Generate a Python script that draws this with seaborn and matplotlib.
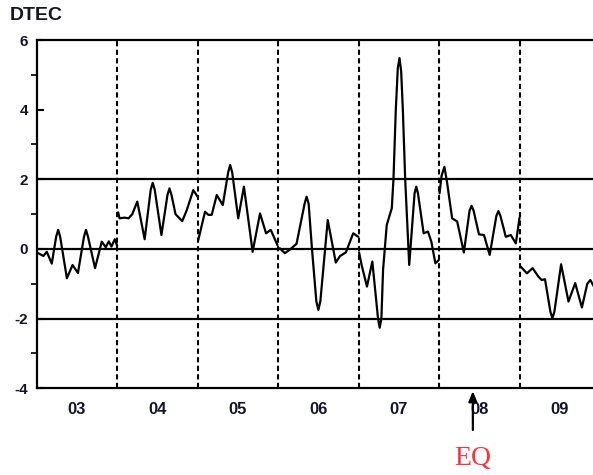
import pandas as pd
import matplotlib
matplotlib.use("Agg")
import matplotlib.pyplot as plt
import seaborn as sns

# Day-of-month labels and DTEC values per day (hour of day, TECU)
day_labels = ["03", "04", "05", "06", "07", "08", "09"]
day_numbers = [3, 4, 5, 6, 7, 8, 9]

hours_03 = [0, 1, 2, 3, 4.5, 5.8, 6.4, 7.0, 9.0, 10.7, 12.3, 14.1, 14.7, 15.3, 17.4, 19.4, 20.6, 21.5, 22.3, 23.3, 24]
dtec_03 = [-0.1, -0.15, -0.2, -0.08, -0.42, 0.35, 0.55, 0.35, -0.84, -0.46, -0.69, 0.35, 0.55, 0.35, -0.55, 0.21, 0.05, 0.22, 0.07, 0.28, 0.09]

hours_04 = [0.3, 0.7, 2.2, 3.4, 4.5, 6.0, 8.2, 10.0, 10.6, 11.2, 13.2, 15.0, 15.6, 16.2, 17.4, 19.4, 20.7, 22.7, 24]
dtec_04 = [1.05, 0.88, 0.9, 0.88, 1.0, 1.36, 0.28, 1.7, 1.9, 1.7, 0.4, 1.55, 1.74, 1.55, 1.0, 0.8, 1.1, 1.69, 1.5]

hours_05 = [0.2, 2.2, 3.2, 4.2, 5.7, 7.5, 9.1, 9.7, 10.3, 12.1, 13.8, 16.4, 18.6, 20.4, 21.8, 23.8]
dtec_05 = [0.26, 1.07, 0.98, 0.98, 1.55, 1.26, 2.2, 2.41, 2.2, 0.88, 1.79, -0.08, 1.02, 0.45, 0.55, 0.11]

hours_06 = [0.5, 2.0, 3.5, 5.5, 7.9, 8.5, 9.1, 10.1, 11.4, 12.0, 12.6, 14.8, 17.2, 18.5, 20.2, 22.4, 23.9]
dtec_06 = [0.02, -0.12, -0.02, 0.15, 1.3, 1.5, 1.3, 0.0, -1.5, -1.75, -1.5, 0.83, -0.39, -0.2, -0.1, 0.45, 0.35]

hours_07 = [0.15, 0.9, 2.5, 4.1, 5.8, 6.3, 6.8, 7.3, 8.4, 9.9, 10.4, 11.1, 11.7, 12.2, 12.7, 13.2, 13.9,
            15.1, 16.7, 17.2, 17.7, 19.4, 20.7, 21.7, 22.9, 23.9]
dtec_07 = [-0.1, -0.46, -1.08, -0.36, -2.0, -2.26, -2.0, -0.6, 0.69, 1.17, 2.0, 4.0, 5.2, 5.48, 5.1, 4.0, 2.0,
           -0.46, 1.6, 1.79, 1.6, 0.45, 0.5, 0.21, -0.41, -0.32]

hours_08 = [0.15, 0.75, 1.6, 2.4, 3.9, 5.4, 7.4, 9.1, 9.7, 10.3, 11.9, 13.4, 15.1, 17.1, 17.7, 18.3, 19.9, 21.4, 22.9, 24]
dtec_08 = [1.6, 2.1, 2.36, 1.9, 0.88, 0.79, -0.1, 1.1, 1.24, 1.1, 0.42, 0.4, -0.17, 0.95, 1.09, 0.95, 0.35, 0.4, 0.16, 0.9]

hours_09 = [0.3, 2.2, 3.9, 5.6, 6.6, 7.6, 9.2, 9.8, 10.4, 12.4, 14.6, 16.6, 18.6, 20.2, 21.1, 22.6]
dtec_09 = [-0.5, -0.7, -0.55, -0.79, -0.89, -0.87, -1.8, -1.99, -1.8, -0.44, -1.51, -0.98, -1.68, -1.0, -0.89, -1.15]

all_hours = [hours_03, hours_04, hours_05, hours_06, hours_07, hours_08, hours_09]
all_dtec = [dtec_03, dtec_04, dtec_05, dtec_06, dtec_07, dtec_08, dtec_09]

eq_day = 8.42          # earthquake time (day of month, fractional)
y_levels = [2, 0, -2]  # reference levels

frames = []
for d, h, v in zip(day_numbers, all_hours, all_dtec):
    frames.append(pd.DataFrame({"day": d, "t": [d + x / 24 for x in h], "dtec": v}))
df = pd.concat(frames, ignore_index=True)

sns.set_style("white")
plt.rcParams["font.family"] = ["Liberation Sans", "DejaVu Sans"]
plt.rcParams["axes.unicode_minus"] = False

W, H = 593, 475
fig = plt.figure(figsize=(W / 100, H / 100), dpi=100)
left, right, bottom, top = 36.7, 600.0, 388.3, 40.0
ax = fig.add_axes([left / W, 1 - bottom / H, (right - left) / W, (bottom - top) / H])

ink = "#15152a"

for y in y_levels:
    ax.axhline(y, color="black", lw=1.6, zorder=1)
for d in day_numbers[1:]:
    ax.axvline(d, color="black", lw=1.5, ls=(0, (2.5, 1.6)), zorder=1)

sns.lineplot(data=df, x="t", y="dtec", units="day", estimator=None,
             color="black", lw=1.6, ax=ax, legend=False, zorder=3,
             solid_joinstyle="round", solid_capstyle="round")

ax.set_xlim(3, 10)
ax.set_ylim(-4, 6)
ax.set_xlabel("")
ax.set_ylabel("")

ax.set_xticks([d + 0.5 for d in day_numbers])
ax.set_xticklabels(day_labels, fontsize=12, fontweight="bold", color=ink)
ax.tick_params(axis="x", length=0, pad=10)

ax.set_yticks([-4, -2, 0, 2, 4, 6])
ax.set_yticklabels(["-4", "-2", "0", "2", "4", "6"], fontsize=11, fontweight="bold", color=ink)
ax.set_yticks([-3, -1, 1, 3, 5], minor=True)
ax.tick_params(axis="y", which="major", direction="in", length=5, width=1.5, pad=6, color="black", left=True)
ax.tick_params(axis="y", which="minor", direction="out", length=4, width=1.2, color="black", left=True)

for side in ["left", "bottom", "top", "right"]:
    ax.spines[side].set_visible(True)
    ax.spines[side].set_color("black")
    ax.spines[side].set_linewidth(1.6)

fig.text(10 / W, 1 - 16 / H, "DTEC", fontsize=14, fontweight="bold", color=ink,
         ha="left", va="center")

ax.annotate("", xy=(eq_day, -4), xycoords="data",
            xytext=(0, -32), textcoords="offset points",
            arrowprops=dict(arrowstyle="-|>,head_length=0.6,head_width=0.25",
                            color="black", lw=1.6),
            annotation_clip=False)
fig.text(473 / W, 1 - 465 / H, "EQ", fontsize=20, color="#ff3340",
         family=["Liberation Serif", "DejaVu Serif"], ha="center", va="baseline")

fig.savefig("out.png", dpi=100)
